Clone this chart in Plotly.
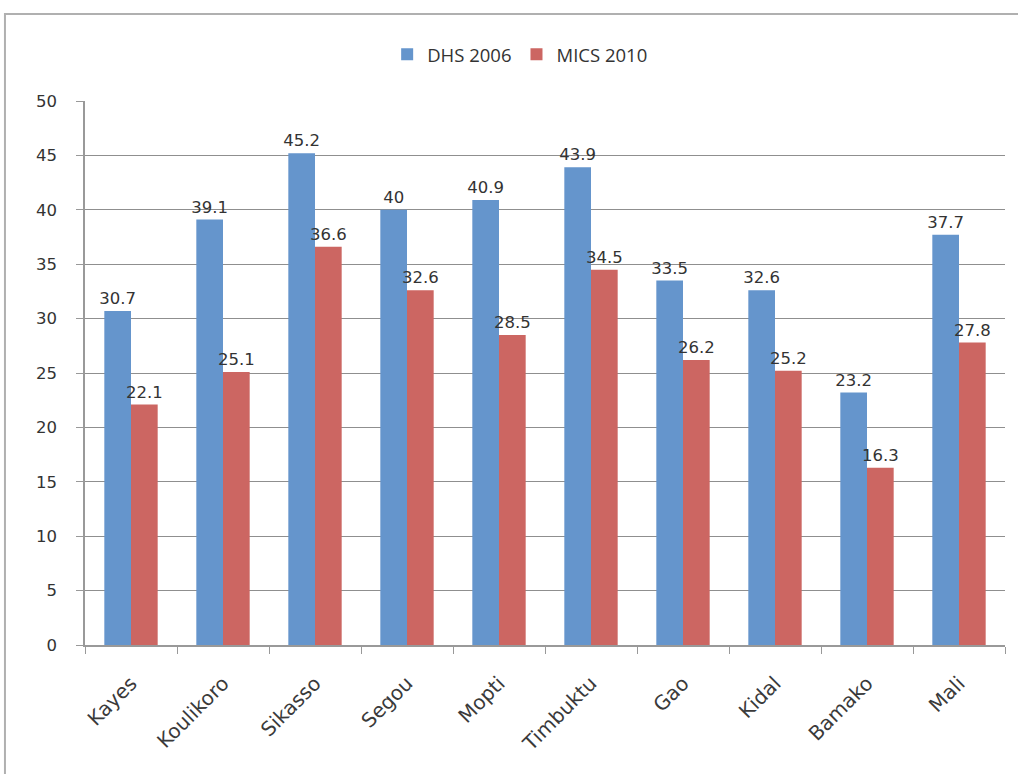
import plotly.graph_objects as go

regions = ["Kayes", "Koulikoro", "Sikasso", "Segou", "Mopti", "Timbuktu",
           "Gao", "Kidal", "Bamako", "Mali"]
dhs_2006 = [30.7, 39.1, 45.2, 40, 40.9, 43.9, 33.5, 32.6, 23.2, 37.7]
mics_2010 = [22.1, 25.1, 36.6, 32.6, 28.5, 34.5, 26.2, 25.2, 16.3, 27.8]
y_ticks = [0, 5, 10, 15, 20, 25, 30, 35, 40, 45, 50]

FONT = "DejaVu Sans"
LEG_FONT = "Open Sans"
TXT = "#333333"

fig = go.Figure()
fig.add_trace(go.Bar(
    name="DHS 2006", x=regions, y=dhs_2006,
    marker=dict(color="#6595cc", line=dict(width=0)),
    text=[f"{v:g}" for v in dhs_2006], textposition="outside",
    textfont=dict(family=FONT, size=16.5, color=TXT),
    constraintext="none", cliponaxis=False,
))
fig.add_trace(go.Bar(
    name="MICS 2010", x=regions, y=mics_2010,
    marker=dict(color="#cc6662", line=dict(width=0)),
    text=[f"{v:g}" for v in mics_2010], textposition="outside",
    textfont=dict(family=FONT, size=16.5, color=TXT),
    constraintext="none", cliponaxis=False,
))

fig.update_layout(
    width=1018, height=774,
    margin=dict(l=85, r=13, t=101, b=129),
    paper_bgcolor="white", plot_bgcolor="white",
    barmode="group", bargap=0.42, bargroupgap=0,
    font=dict(family=FONT, size=16.5, color=TXT),
    showlegend=True,
    legend=dict(orientation="h", x=0.473, xanchor="center", y=1.085, yanchor="middle",
                font=dict(family=LEG_FONT, size=18.5, color=TXT), itemwidth=30,
                traceorder="normal"),
    xaxis=dict(
        tickangle=-45, tickson="boundaries", ticks="outside", ticklen=7,
        ticklabelstandoff=17,
        tickcolor="#999999", showline=True, linecolor="#999999", linewidth=1.5,
        showgrid=False, tickfont=dict(family=FONT, size=20, color="#3a3a3a"),
    ),
    yaxis=dict(
        range=[0, 50], tickvals=y_ticks, ticks="outside", ticklen=7,
        ticklabelstandoff=16,
        tickcolor="#999999", showline=True, linecolor="#999999", linewidth=1.5,
        showgrid=True, gridcolor="#8f8f8f", gridwidth=1.2, zeroline=False,
        tickfont=dict(family=FONT, size=16.5, color=TXT),
    ),
    shapes=[dict(type="rect", xref="paper", yref="paper",
                 x0=-0.087, x1=1.03, y0=-0.26, y1=1.16,
                 line=dict(color="#b0b0b0", width=2), fillcolor="rgba(0,0,0,0)",
                 layer="below")],
)

fig.write_html("out.html")
